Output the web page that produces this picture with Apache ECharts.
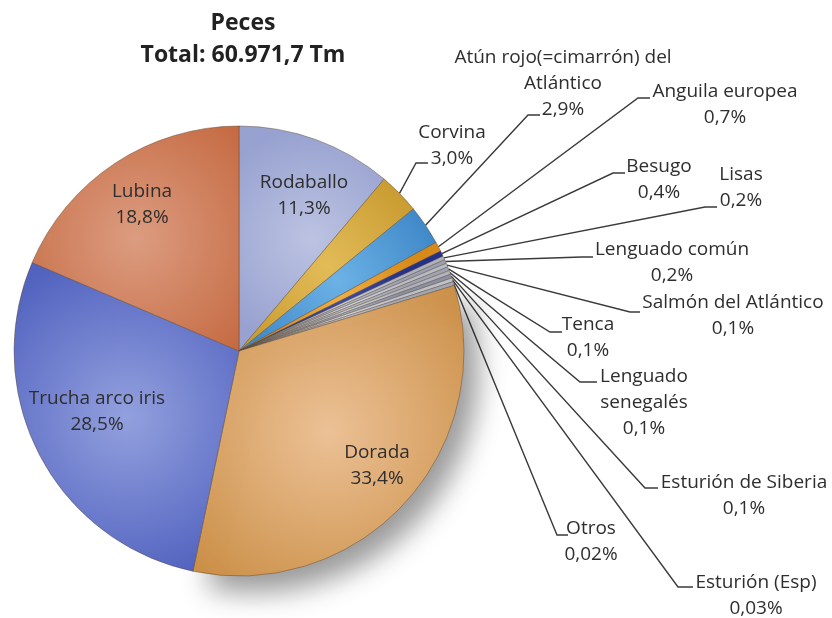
<!DOCTYPE html>
<html>
<head>
<meta charset="utf-8">
<script src="https://cdn.jsdelivr.net/npm/echarts@6/dist/echarts.min.js"></script>
<style>
html,body{margin:0;padding:0;background:#fff;}
#chart{width:832px;height:618px;}
</style>
</head>
<body>
<div id="chart"></div>
<script>
// ---- Data ----
const titleText = 'Peces';
const subtitleText = 'Total: 60.971,7 Tm';
const categories = [
  'Rodaballo', 'Corvina', 'Atún rojo(=cimarrón) del\nAtlántico', 'Anguila europea',
  'Besugo', 'Lisas', 'Lenguado común', 'Salmón del Atlántico', 'Tenca',
  'Lenguado\nsenegalés', 'Esturión de Siberia', 'Esturión (Esp)', 'Otros',
  'Dorada', 'Trucha arco iris', 'Lubina'
];
const shares = [11.3, 3.0, 2.9, 0.7, 0.4, 0.2, 0.2, 0.1, 0.1, 0.1, 0.1, 0.03, 0.02, 33.4, 28.5, 18.8];

// ---- Styles (kept apart from data) ----
const sliceColors = [
  ['#bcc3e2', '#98a2d0'],
  ['#e2bc58', '#c49428'],
  ['#6cb2e6', '#3f88c8'],
  ['#f0ae40', '#d88a18'],
  ['#3a4aa8', '#24308a'],
  ['#cdd0d8', '#aeb2be'],
  ['#b4bacc', '#9aa0b4'],
  ['#d6d8de', '#b8bcc6'],
  ['#bcc0ca', '#a0a4b2'],
  ['#d0d3da', '#b0b4c0'],
  ['#a8aec0', '#8c92a6'],
  ['#dcdde2', '#c0c2ca'],
  ['#c4c7d0', '#a6aab6'],
  ['#ecc196', '#c98c42'],
  ['#93a0de', '#5162bf'],
  ['#dc9c80', '#c4683f']
];
const inner = {
  'Rodaballo': {cx: 304, top: 170},
  'Lubina': {cx: 142, top: 179},
  'Trucha arco iris': {cx: 97, top: 386},
  'Dorada': {cx: 377, top: 440}
};
const outer = {
  'Corvina': {cx: 452, top: 120, tick: [416, 428, 163]},
  'Atún rojo(=cimarrón) del\nAtlántico': {cx: 563, top: 45, tick: [528, 540, 115]},
  'Anguila europea': {cx: 725, top: 79, tick: [638, 650, 98]},
  'Besugo': {cx: 659, top: 154, tick: [613, 625, 173]},
  'Lisas': {cx: 741, top: 162, tick: [705, 717, 207]},
  'Lenguado común': {cx: 672, top: 237, tick: [582, 593, 257]},
  'Salmón del Atlántico': {cx: 733, top: 290, tick: [630, 640, 312]},
  'Tenca': {cx: 588, top: 312, tick: [550, 562, 332]},
  'Lenguado\nsenegalés': {cx: 644, top: 364, tick: [580, 597, 382]},
  'Esturión de Siberia': {cx: 744, top: 470, tick: [645, 658, 488]},
  'Esturión (Esp)': {cx: 756, top: 570, tick: [678, 693, 587]},
  'Otros': {cx: 591, top: 516, tick: [557, 568, 535]}
};

function fmt(v) {
  const s = v < 0.1 ? v.toFixed(2) : v.toFixed(1);
  return s.replace('.', ',') + '%';
}

const seriesData = categories.map(function (name, i) {
  const c = sliceColors[i];
  const item = {
    name: name,
    value: shares[i],
    itemStyle: {
      color: {
        type: 'radial', x: 0.5, y: 0.5, r: 0.75,
        colorStops: [{offset: 0, color: c[0]}, {offset: 1, color: c[1]}]
      }
    }
  };
  if (inner[name]) item.labelLine = {show: false};
  if (name === 'Dorada') {
    item.itemStyle.shadowBlur = 28;
    item.itemStyle.shadowColor = 'rgba(0,0,0,0.4)';
    item.itemStyle.shadowOffsetX = 14;
    item.itemStyle.shadowOffsetY = 16;
  }
  return item;
});

const chart = echarts.init(document.getElementById('chart'), null, {renderer: 'canvas'});
chart.setOption({
  backgroundColor: '#ffffff',
  animation: false,
  title: {
    text: titleText + '\n' + subtitleText,
    left: 238,
    top: 2,
    textAlign: 'center',
    textStyle: {
      fontFamily: 'Open Sans', fontWeight: 'bold', fontSize: 23,
      lineHeight: 32, color: '#222'
    }
  },
  series: [{
    type: 'pie',
    center: [239, 351],
    radius: [0, 225],
    startAngle: 90,
    clockwise: true,
    minAngle: 1,
    avoidLabelOverlap: false,
    data: seriesData,
    itemStyle: {borderColor: 'rgba(90,70,50,0.45)', borderWidth: 1},
    label: {
      show: true,
      position: 'outside',
      formatter: function (p) { return p.name + '\n' + fmt(p.value); },
      fontFamily: 'Open Sans',
      fontSize: 19,
      lineHeight: 26,
      color: '#2e2e2e',
      align: 'center'
    },
    labelLine: {
      show: true,
      length: 20,
      length2: 10,
      lineStyle: {color: '#3a3a3a', width: 1.4}
    },
    labelLayout: function (params) {
      const name = categories[params.dataIndex];
      if (inner[name]) {
        return {x: inner[name].cx, y: inner[name].top, align: 'center', verticalAlign: 'top'};
      }
      const o = outer[name];
      if (!o) return {};
      const res = {x: o.cx, y: o.top, align: 'center', verticalAlign: 'top'};
      if (params.labelLinePoints && params.labelLinePoints.length) {
        const s = params.labelLinePoints[0];
        res.labelLinePoints = [[s[0], s[1]], [o.tick[0], o.tick[2]], [o.tick[1], o.tick[2]]];
      }
      return res;
    }
  }]
});
</script>
</body>
</html>
